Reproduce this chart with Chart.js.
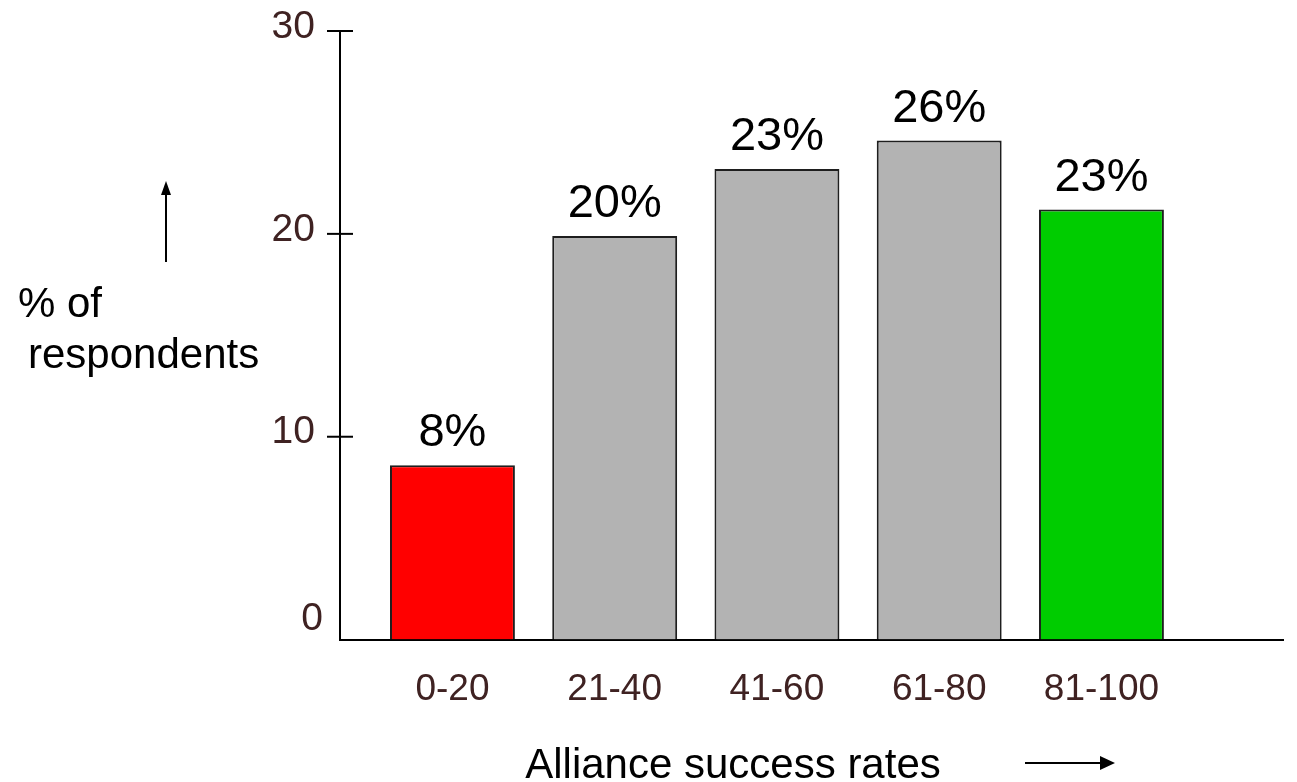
<!DOCTYPE html>
<html><head><meta charset="utf-8">
<script src="https://cdn.jsdelivr.net/npm/chart.js@4.4.1/dist/chart.umd.min.js"></script>
<style>html,body{margin:0;padding:0;background:#fff;overflow:hidden}#wrap{width:1297px;height:782px;position:relative}</style>
</head><body><div id="wrap"><canvas id="c" width="1297" height="782"></canvas></div>
<script>
const categories = ['0-20', '21-40', '41-60', '61-80', '81-100'];
const values = [8.6, 19.9, 23.2, 24.6, 21.2];
const valueLabels = ['8%', '20%', '23%', '26%', '23%'];
const yTickValues = [0, 10, 20, 30];
const barColors = ['#ff0000', '#b3b3b3', '#b3b3b3', '#b3b3b3', '#00cc00'];
const yTitleLines = ['% of', 'respondents'];
const xTitle = 'Alliance success rates';

const FONT = '"Liberation Sans", Arial, Helvetica, sans-serif';
const TICK_COLOR = '#3f2222';

const deco = {
  id: 'deco',
  afterDraw(chart) {
    const ctx = chart.ctx;
    const ys = chart.scales.y;
    const axisX = chart.chartArea.left;
    ctx.save();
    // y tick marks and labels
    ctx.strokeStyle = '#000';
    ctx.lineWidth = 2;
    ctx.font = '39px ' + FONT;
    ctx.fillStyle = TICK_COLOR;
    ctx.textAlign = 'right';
    ctx.textBaseline = 'middle';
    ys.ticks.forEach(t => {
      const py = ys.getPixelForValue(t.value);
      if (t.value > 0) {
        ctx.beginPath();
        ctx.moveTo(axisX - 13, py);
        ctx.lineTo(axisX + 13, py);
        ctx.stroke();
        ctx.fillText(String(t.value), axisX - 25, py - 4);
      } else {
        ctx.fillText(String(t.value), axisX - 17, py - 20);
      }
    });
    // value labels above bars
    const meta = chart.getDatasetMeta(0);
    ctx.fillStyle = '#000';
    ctx.font = '47px ' + FONT;
    ctx.textAlign = 'center';
    ctx.textBaseline = 'alphabetic';
    meta.data.forEach((bar, i) => {
      ctx.fillText(valueLabels[i], bar.x, bar.y - 19);
    });
    // y title
    ctx.font = '42px ' + FONT;
    ctx.textAlign = 'left';
    ctx.fillText(yTitleLines[0], 18, 317);
    ctx.fillText(yTitleLines[1], 28, 368);
    // x title
    ctx.textAlign = 'center';
    ctx.fillText(xTitle, 733, 778);
    // up arrow
    ctx.lineWidth = 2;
    ctx.beginPath(); ctx.moveTo(166, 262); ctx.lineTo(166, 192); ctx.stroke();
    ctx.beginPath(); ctx.moveTo(166, 181); ctx.lineTo(171, 195); ctx.lineTo(161, 195); ctx.closePath(); ctx.fill();
    // right arrow
    ctx.beginPath(); ctx.moveTo(1025, 763); ctx.lineTo(1102, 763); ctx.stroke();
    ctx.beginPath(); ctx.moveTo(1115, 763); ctx.lineTo(1100, 756); ctx.lineTo(1100, 770); ctx.closePath(); ctx.fill();
    ctx.restore();
  }
};

new Chart(document.getElementById('c'), {
  type: 'bar',
  data: {
    datasets: [{
      data: categories.map((c, i) => ({ x: i, y: values[i] })),
      backgroundColor: barColors,
      borderColor: '#1e1e1e',
      borderWidth: 2,
      barPercentage: 0.77,
      categoryPercentage: 1.0
    }]
  },
  options: {
    responsive: false,
    animation: false,
    devicePixelRatio: 1,
    layout: { padding: { left: 340, right: 14, top: 31, bottom: 42 } },
    plugins: { legend: { display: false }, tooltip: { enabled: false } },
    scales: {
      x: {
        type: 'linear',
        offset: false,
        min: -0.693,
        max: 5.119,
        grid: { display: false, drawTicks: false, offset: false },
        border: { display: true, color: '#000', width: 2 },
        afterBuildTicks: s => { s.ticks = categories.map((c, i) => ({ value: i })); },
        ticks: {
          autoSkip: false, maxRotation: 0,
          callback: v => categories[v] !== undefined ? categories[v] : '',
          font: { family: FONT, size: 37 },
          color: TICK_COLOR,
          padding: 28
        }
      },
      y: {
        min: 0, max: 30,
        grid: { display: false, drawTicks: false },
        border: { display: true, color: '#000', width: 2 },
        afterBuildTicks: s => { s.ticks = yTickValues.map(v => ({ value: v })); },
        ticks: { display: false }
      }
    }
  },
  plugins: [deco]
});
</script></body></html>
